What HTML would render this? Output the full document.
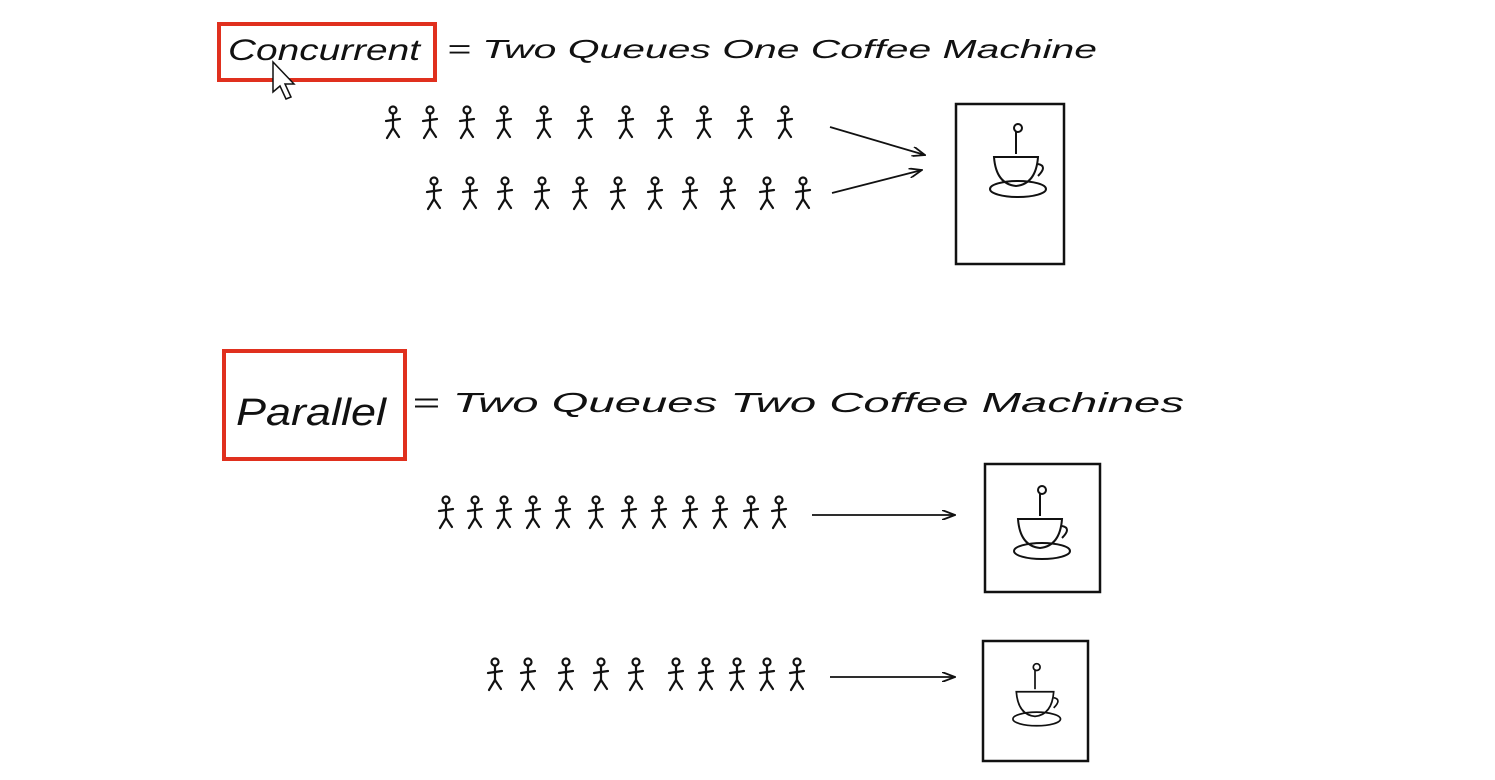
<!DOCTYPE html>
<html><head><meta charset="utf-8"><style>
html,body{margin:0;padding:0;background:#fff;}
svg{display:block;}
text{font-family:"Liberation Sans",sans-serif;font-style:italic;fill:#111;}
</style></head><body>
<svg width="1495" height="780" viewBox="0 0 1495 780" xmlns="http://www.w3.org/2000/svg">
<defs>
<g id="p" stroke="#111" stroke-width="2.2" fill="none" stroke-linecap="round">
<circle cx="0" cy="4" r="3.5"/>
<line x1="0" y1="8" x2="0" y2="22"/>
<line x1="-7" y1="15" x2="7" y2="13"/>
<line x1="0" y1="22" x2="-6" y2="32"/>
<line x1="0" y1="22" x2="6" y2="31"/>
</g>
<g id="cup" stroke="#111" stroke-width="2" fill="none">
<path d="M-22,-5 L22,-5 Q20,22 0,24 Q-20,22 -22,-5 Z"/>
<path d="M22,2 Q32,4 22,14"/>
<ellipse cx="2" cy="27" rx="28" ry="8"/>
<path d="M0,-8 L0,-30"/>
<circle cx="2" cy="-34" r="4"/>
</g>
<marker id="ah" markerWidth="14" markerHeight="10" refX="13" refY="5" orient="auto" markerUnits="userSpaceOnUse">
<path d="M0,0 L13,5 L0,10" fill="none" stroke="#111" stroke-width="1.8"/>
</marker>
</defs>

<rect x="219" y="24" width="216" height="56" fill="none" stroke="#e0301e" stroke-width="4"/>
<text x="228" y="60" font-size="30" textLength="192" lengthAdjust="spacingAndGlyphs">Concurrent</text>
<path d="M273,62 L273,92 L280,86 L286,99 L291,97 L285,84 L294,84 Z" fill="#fff" stroke="#111" stroke-width="1.5"/>
<text x="447" y="58" font-size="26" textLength="650" lengthAdjust="spacingAndGlyphs">=  Two Queues One  Coffee Machine</text>

<g>
<use href="#p" x="393" y="106"/><use href="#p" x="430" y="106"/><use href="#p" x="467" y="106"/><use href="#p" x="504" y="106"/><use href="#p" x="544" y="106"/><use href="#p" x="585" y="106"/><use href="#p" x="626" y="106"/><use href="#p" x="665" y="106"/><use href="#p" x="704" y="106"/><use href="#p" x="745" y="106"/><use href="#p" x="785" y="106"/>
<use href="#p" x="434" y="177"/><use href="#p" x="470" y="177"/><use href="#p" x="505" y="177"/><use href="#p" x="542" y="177"/><use href="#p" x="580" y="177"/><use href="#p" x="618" y="177"/><use href="#p" x="655" y="177"/><use href="#p" x="690" y="177"/><use href="#p" x="728" y="177"/><use href="#p" x="767" y="177"/><use href="#p" x="803" y="177"/>
</g>
<line x1="830" y1="127" x2="925" y2="155" stroke="#111" stroke-width="1.8" marker-end="url(#ah)"/>
<line x1="832" y1="193" x2="922" y2="170" stroke="#111" stroke-width="1.8" marker-end="url(#ah)"/>
<rect x="956" y="104" width="108" height="160" fill="none" stroke="#111" stroke-width="2.5"/>
<use href="#cup" x="1016" y="162"/>

<rect x="224" y="351" width="181" height="108" fill="none" stroke="#e0301e" stroke-width="4"/>
<text x="236" y="425" font-size="38" textLength="150" lengthAdjust="spacingAndGlyphs">Parallel</text>
<text x="412" y="412" font-size="28" textLength="772" lengthAdjust="spacingAndGlyphs">=  Two Queues Two Coffee Machines</text>

<g>
<use href="#p" x="446" y="496"/><use href="#p" x="475" y="496"/><use href="#p" x="504" y="496"/><use href="#p" x="533" y="496"/><use href="#p" x="563" y="496"/><use href="#p" x="596" y="496"/><use href="#p" x="629" y="496"/><use href="#p" x="659" y="496"/><use href="#p" x="690" y="496"/><use href="#p" x="720" y="496"/><use href="#p" x="751" y="496"/><use href="#p" x="779" y="496"/>
<use href="#p" x="495" y="658"/><use href="#p" x="528" y="658"/><use href="#p" x="566" y="658"/><use href="#p" x="601" y="658"/><use href="#p" x="636" y="658"/><use href="#p" x="676" y="658"/><use href="#p" x="706" y="658"/><use href="#p" x="737" y="658"/><use href="#p" x="767" y="658"/><use href="#p" x="797" y="658"/>
</g>
<line x1="812" y1="515" x2="955" y2="515" stroke="#111" stroke-width="1.8" marker-end="url(#ah)"/>
<line x1="830" y1="677" x2="955" y2="677" stroke="#111" stroke-width="1.8" marker-end="url(#ah)"/>
<rect x="985" y="464" width="115" height="128" fill="none" stroke="#111" stroke-width="2.5"/>
<use href="#cup" x="1040" y="524"/>
<rect x="983" y="641" width="105" height="120" fill="none" stroke="#111" stroke-width="2.5"/>
<g transform="translate(1035,696) scale(0.85)"><use href="#cup"/></g>
</svg>
</body></html>
